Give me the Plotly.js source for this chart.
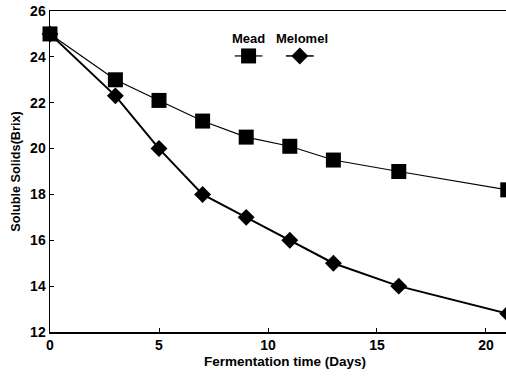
<!DOCTYPE html>
<html><head><meta charset="utf-8">
<script src="https://cdn.plot.ly/plotly-3.0.1.min.js"></script>
<style>html,body{margin:0;padding:0;background:#fff;overflow:hidden;width:506px;height:377px}#c{width:520px;height:377px}</style>
</head><body><div id="c"></div>
<script>
const days = [0, 3, 5, 7, 9, 11, 13, 16, 21];
const mead = [25, 23, 22.1, 21.2, 20.5, 20.1, 19.5, 19.0, 18.2];
const melomel = [25, 22.3, 20, 18, 17, 16, 15, 14, 12.8];
const seriesNames = ['Mead', 'Melomel'];
const xTicks = [0, 5, 10, 15, 20];
const yTicks = [12, 14, 16, 18, 20, 22, 24, 26];

const F = '"Liberation Sans", Arial, sans-serif';
const keyY = [0.86, 0.86];
const traces = [
  {x: days, y: mead, mode: 'lines+markers', cliponaxis: false, showlegend: false,
   line: {color: '#000', width: 1.2}, marker: {symbol: 'square', size: 15, color: '#000'}},
  {x: days, y: melomel, mode: 'lines+markers', cliponaxis: false, showlegend: false,
   line: {color: '#000', width: 2}, marker: {symbol: 'diamond', size: 13, color: '#000'}},
  // legend keys on hidden overlay axes (paper-like 0..1)
  {x: [0.393, 0.452], y: keyY, xaxis: 'x2', yaxis: 'y2', mode: 'lines', showlegend: false,
   line: {color: '#000', width: 1.2}, hoverinfo: 'skip'},
  {x: [0.4225], y: [keyY[0]], xaxis: 'x2', yaxis: 'y2', mode: 'markers', showlegend: false,
   marker: {symbol: 'square', size: 15, color: '#000'}, hoverinfo: 'skip'},
  {x: [0.502, 0.561], y: keyY, xaxis: 'x2', yaxis: 'y2', mode: 'lines', showlegend: false,
   line: {color: '#000', width: 1.5}, hoverinfo: 'skip'},
  {x: [0.5315], y: [keyY[1]], xaxis: 'x2', yaxis: 'y2', mode: 'markers', showlegend: false,
   marker: {symbol: 'diamond', size: 13, color: '#000'}, hoverinfo: 'skip'}
];
const layout = {
  width: 520, height: 377,
  margin: {l: 50, r: 0, t: 11, b: 45},
  paper_bgcolor: '#fff', plot_bgcolor: '#fff',
  font: {family: F, color: '#000'},
  xaxis: {range: [0, 21.56], tickvals: xTicks, ticks: 'inside', ticklen: 4, tickcolor: '#000',
    showline: true, linecolor: '#000', linewidth: 1.5, mirror: true, showgrid: false, zeroline: false,
    tickfont: {size: 14, family: F, weight: 'bold'},
    title: {text: '<b>Fermentation time (Days)</b>', font: {size: 13.5, family: F}, standoff: 4}},
  yaxis: {range: [12, 26], tickvals: yTicks, ticks: 'inside', ticklen: 4, tickcolor: '#000',
    showline: true, linecolor: '#000', linewidth: 1.5, showgrid: false, zeroline: false,
    tickfont: {size: 14, family: F, weight: 'bold'},
    title: {text: '<b>Soluble Solids(Brix)</b>', font: {size: 12.7, family: F}, standoff: 6}},
  xaxis2: {range: [0, 1], overlaying: 'x', visible: false, fixedrange: true},
  yaxis2: {range: [0, 1], overlaying: 'y', visible: false, fixedrange: true},
  annotations: [
    {xref: 'paper', yref: 'paper', x: 0.4225, y: 0.915, yanchor: 'middle', text: '<b>' + seriesNames[0] + '</b>', showarrow: false, font: {size: 13, family: F}},
    {xref: 'paper', yref: 'paper', x: 0.536, y: 0.915, yanchor: 'middle', text: '<b>' + seriesNames[1] + '</b>', showarrow: false, font: {size: 13, family: F}}
  ]
};
Plotly.newPlot('c', traces, layout, {staticPlot: true});
</script></body></html>
